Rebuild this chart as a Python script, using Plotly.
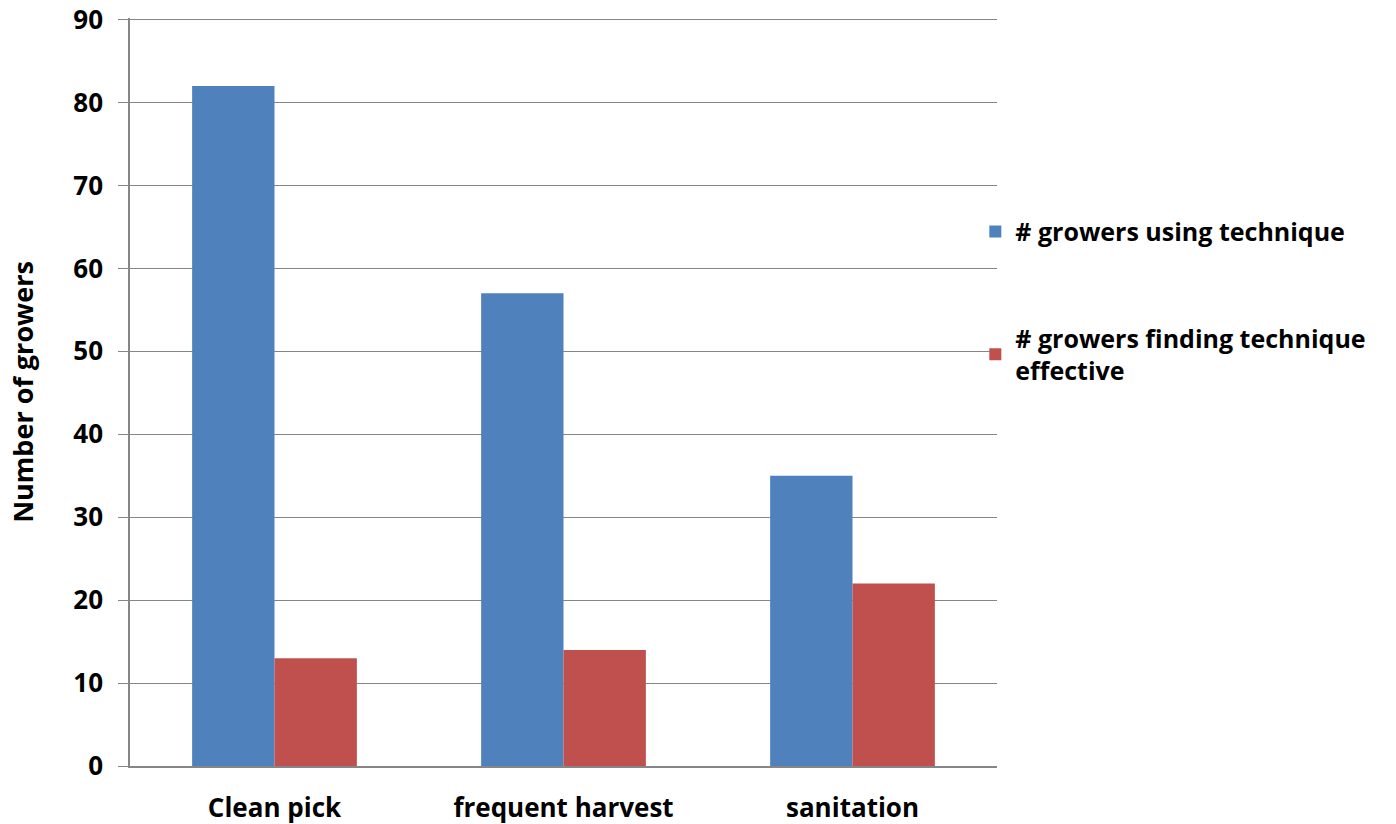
import plotly.graph_objects as go

# Data
categories = ['Clean pick', 'frequent harvest', 'sanitation']
using_technique = [82, 57, 35]
finding_effective = [13, 14, 22]
y_ticks = [0, 10, 20, 30, 40, 50, 60, 70, 80, 90]

FONT = 'Open Sans'

fig = go.Figure()
fig.add_trace(go.Bar(
    x=categories, y=using_technique,
    name='# growers using technique',
    marker=dict(color='#4F81BD', line_width=0),
    legendgroup='a',
))
fig.add_trace(go.Bar(
    x=categories, y=finding_effective,
    name='# growers finding technique<br>effective',
    marker=dict(color='#C0504D', line_width=0),
    legendgroup='b',
))

fig.update_layout(
    width=1396, height=824,
    margin=dict(l=130, r=399, t=18, b=58),
    plot_bgcolor='white', paper_bgcolor='white',
    barmode='group', bargap=0.43, bargroupgap=0,
    font=dict(family=FONT, size=26, color='black'),
    xaxis=dict(
        showline=True, linecolor='#868686', linewidth=1.5,
        showgrid=False, ticks='', ticklabelstandoff=18,
        tickfont=dict(family=FONT, size=26, weight='bold'),
        automargin=False,
    ),
    yaxis=dict(
        # a hair above 90 so the top grid line is still drawn
        range=[0, 90.2], tickvals=y_ticks,
        showline=True, linecolor='#868686', linewidth=1.5,
        showgrid=True, gridcolor='#868686', gridwidth=1,
        ticks='outside', ticklen=10, tickcolor='#868686',
        ticklabelstandoff=10,
        tickfont=dict(family=FONT, size=26, weight='bold'),
        title=dict(text='Number of growers', standoff=32,
                   font=dict(family=FONT, size=27, weight='bold')),
        zeroline=False, automargin=False,
    ),
    legend=dict(
        x=0.975, xanchor='left', y=0.745, yanchor='top',
        font=dict(family=FONT, size=25, weight='bold'),
        traceorder='grouped', tracegroupgap=71,
        itemwidth=30, bgcolor='rgba(0,0,0,0)',
    ),
)

# drop the default body margin so the figure fills the window exactly
fig.write_html('out.html', config={'displayModeBar': False},
               post_script="document.body.style.margin = '0';")
